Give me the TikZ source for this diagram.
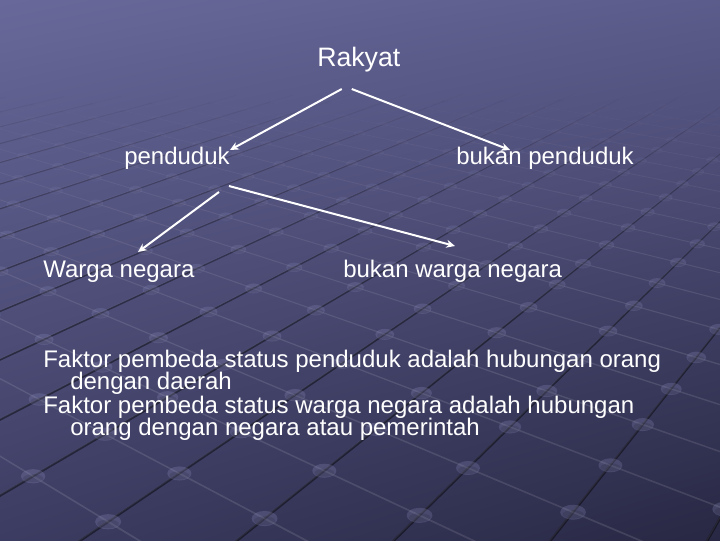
\documentclass[tikz,border=0pt]{standalone}
\usepackage{fontspec}
\setmainfont{Liberation Sans}
\usetikzlibrary{arrows.meta,calc,shadings}
\definecolor{bgUL}{RGB}{104,104,154}
\definecolor{bgUR}{RGB}{92,92,140}
\definecolor{bgLL}{RGB}{60,60,98}
\definecolor{bgLR}{RGB}{40,40,68}
\definecolor{dotc}{RGB}{150,150,200}
\begin{document}
\begin{tikzpicture}[x=0.75pt,y=-0.75pt,
  lbl/.style={text=white, inner sep=0pt, font=\fontsize{18}{21.6}\selectfont},
  title/.style={text=white, inner sep=0pt, font=\fontsize{20}{24}\selectfont},
  arr/.style={draw=white, line width=1.5pt, -{Stealth[length=6.5pt,width=6pt]}}]
\useasboundingbox (0,0) rectangle (720,540);
\shade[upper left=bgUL, upper right=bgUR, lower left=bgLL, lower right=bgLR] (0,0) rectangle (720,540);
\begin{scope}
\clip (0,0) rectangle (720,540);
\foreach \u in {-5,...,28}{
  \foreach \v in {-4,...,26}{
    \pgfmathsetmacro\wa{1+0.0712*\u+0.0668*\v}
    \ifdim\wa pt<2.6pt
      \pgfmathsetmacro\xa{(78.3*\u-66.8*\v+468)/\wa}
      \pgfmathsetmacro\ya{(-10.68*\u-10.02*\v+468)/\wa}
      \pgfmathsetmacro\wb{\wa+0.0712}
      \pgfmathsetmacro\xb{(78.3*(\u+1)-66.8*\v+468)/\wb}
      \pgfmathsetmacro\yb{(-10.68*(\u+1)-10.02*\v+468)/\wb}
      \pgfmathsetmacro\wc{\wa+0.0668}
      \pgfmathsetmacro\xc{(78.3*\u-66.8*(\v+1)+468)/\wc}
      \pgfmathsetmacro\yc{(-10.68*\u-10.02*(\v+1)+468)/\wc}
      \pgfmathsetmacro\op{max(0,min(1,(2.5-\wa)/1.3))}
      \pgfmathsetmacro\lw{1.6/\wa}
      \draw[black, opacity=0.45*\op, line width=\lw pt] (\xa,\ya) -- (\xb,\yb);
      \draw[white, opacity=0.07*\op, line width=0.5*\lw pt] ($(\xa,\ya)+(0,-1)$) -- ($(\xb,\yb)+(0,-1)$);
      \draw[white, opacity=0.11*\op, line width=0.7*\lw pt] (\xa,\ya) -- (\xc,\yc);
      \fill[dotc, opacity=0.24*\op] (\xa,\ya) ellipse [x radius=12/\wa, y radius=7/\wa];
      \fill[black, opacity=0.10*\op] ($(\xa,\ya)+(0,2/\wa)$) ellipse [x radius=10/\wa, y radius=4/\wa];
    \fi
  }
}
\end{scope}

\node[title, anchor=base west] (r) at (317,66) {Rakyat};
\node[lbl, anchor=base west] (p) at (124,164) {penduduk};
\node[lbl, anchor=base west] (bp) at (456,164) {bukan penduduk};
\node[lbl, anchor=base west] (w) at (43,277) {Warga negara};
\node[lbl, anchor=base west] (bw) at (343,277) {bukan warga negara};

\draw[arr] ($(r.base)+(-17,23)$) -- ($(p.base east)+(0,-14)$);
\draw[arr] ($(r.base)+(-7,23)$) -- ($(bp.base west)+(54,-14)$);
\draw[arr] ($(p.base east)+(-11,28)$) -- ($(w.base west)+(95,-25)$);
\draw[arr] ($(p.base east)+(-1,22)$) -- ($(bw.base west)+(112,-31)$);

\node[lbl, anchor=base west] (f1a) at (43,367) {Faktor pembeda status penduduk adalah hubungan orang};
\node[lbl, anchor=base west] (f1b) at (70,389) {dengan daerah};
\node[lbl, anchor=base west] (f2a) at (43,413) {Faktor pembeda status warga negara adalah hubungan};
\node[lbl, anchor=base west] (f2b) at (70,435) {orang dengan negara atau pemerintah};
\end{tikzpicture}
\end{document}
